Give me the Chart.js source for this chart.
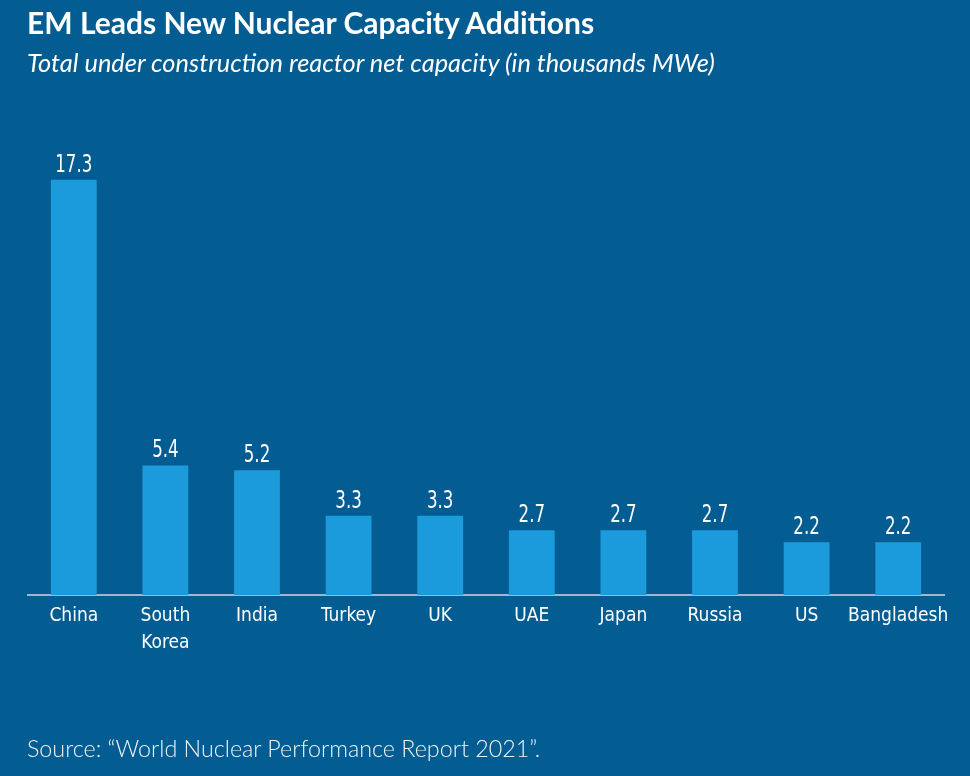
<!DOCTYPE html>
<html><head><meta charset="utf-8">
<script src="https://cdn.jsdelivr.net/npm/chart.js@4"></script>
<style>
html,body{margin:0;padding:0;background:#035C92;width:970px;height:776px;overflow:hidden}
#wrap{position:absolute;left:0;top:0;width:970px;height:776px}
.t{position:absolute;color:#fff;white-space:nowrap}
#title{left:27px;top:4px;font:bold 30px Lato, "Open Sans", sans-serif}
#sub{left:27px;top:47px;font:italic 25.4px Lato, "Open Sans", sans-serif}
#src{left:27px;top:734px;font:300 23.3px Lato, "Open Sans", sans-serif;color:#eef4f8}
</style></head>
<body>
<div id="wrap"><canvas id="c" width="970" height="776"></canvas></div>
<div class="t" id="title">EM Leads New Nuclear Capacity Additions</div>
<div class="t" id="sub">Total under construction reactor net capacity (in thousands MWe)</div>
<div class="t" id="src">Source: “World Nuclear Performance Report 2021”.</div>
<script>
const categories = ["China", ["South","Korea"], "India", "Turkey", "UK", "UAE", "Japan", "Russia", "US", "Bangladesh"];
const capacity = [17.3, 5.4, 5.2, 3.3, 3.3, 2.7, 2.7, 2.7, 2.2, 2.2];
const labelFont = '"DejaVu Sans Condensed", "Liberation Sans Narrow", sans-serif';

const valueLabels = {
  id: 'valueLabels',
  afterDatasetsDraw(chart) {
    const ctx = chart.ctx;
    const meta = chart.getDatasetMeta(0);
    meta.data.forEach((bar, i) => {
      ctx.save();
      ctx.translate(bar.x, bar.y - 8);
      ctx.scale(0.74, 1);
      ctx.fillStyle = '#ffffff';
      ctx.font = '25px ' + labelFont;
      ctx.textAlign = 'center';
      ctx.textBaseline = 'alphabetic';
      ctx.fillText(capacity[i].toFixed(1), 0, 0);
      ctx.restore();
    });
  }
};

new Chart(document.getElementById('c'), {
  type: 'bar',
  data: {
    labels: categories,
    datasets: [{
      data: capacity,
      backgroundColor: '#1B9BDB',
      borderWidth: 0,
      categoryPercentage: 1.0,
      barPercentage: 0.5
    }]
  },
  options: {
    responsive: false,
    animation: false,
    devicePixelRatio: 1,
    layout: { padding: { left: 28, right: 26, top: 115, bottom: 0 } },
    plugins: { legend: { display: false }, tooltip: { enabled: false }, title: { display: false } },
    scales: {
      x: {
        grid: { display: false, drawTicks: false },
        border: { display: true, color: '#9DB8CC', width: 2 },
        ticks: { color: '#ffffff', font: { family: labelFont, size: 19, lineHeight: 1.45 }, padding: 7, maxRotation: 0, autoSkip: false },
        afterFit(scale) { scale.height = 181; }
      },
      y: { display: false, min: 0, max: 20 }
    }
  },
  plugins: [valueLabels]
});
</script>
</body></html>
